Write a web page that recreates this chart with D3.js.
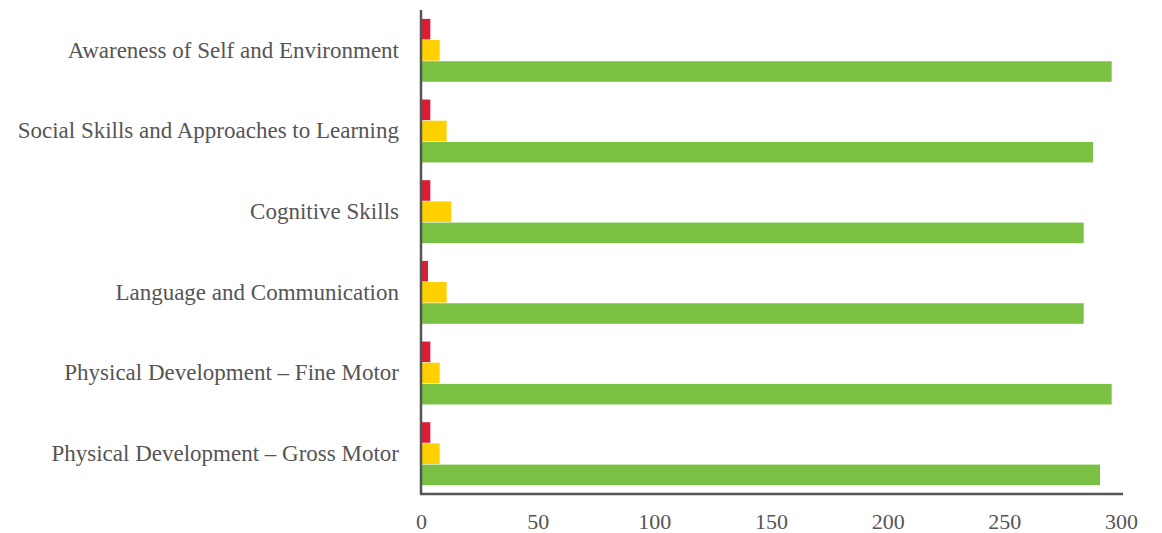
<!DOCTYPE html>
<html><head><meta charset="utf-8">
<script src="https://cdn.jsdelivr.net/npm/d3@7"></script>
<style>body{margin:0;background:#fff}svg{display:block}</style>
</head><body><svg id="c" width="1162" height="533"></svg>
<script>
const categories = ["Awareness of Self and Environment","Social Skills and Approaches to Learning","Cognitive Skills","Language and Communication","Physical Development – Fine Motor","Physical Development – Gross Motor"];
const seriesNames = ["Red","Yellow","Green"];
const redValues = [4,4,4,3,4,4];
const yellowValues = [8,11,13,11,8,8];
const greenValues = [296,288,284,284,296,291];
const xTicks = [0,50,100,150,200,250,300];
const colors = ["#dc1c35","#ffd000","#7ac143"];

const svg = d3.select("#c");
const m = {left:421, right:1121, top:10, bottom:494};
const x = d3.scaleLinear().domain([0,300]).range([m.left, m.right]);
const y = d3.scaleBand().domain(categories).range([m.top, m.bottom]).paddingInner(0.22).paddingOuter(0.11);
const ySub = d3.scaleBand().domain(seriesNames).range([0, y.bandwidth()]).paddingInner(0.03);
const series = [redValues, yellowValues, greenValues];

const g = svg.append("g");
categories.forEach((c,i)=>{
  series.forEach((vals,s)=>{
    g.append("rect")
      .attr("x", x(0))
      .attr("y", y(c)+ySub(seriesNames[s]))
      .attr("width", x(vals[i])-x(0))
      .attr("height", ySub.bandwidth())
      .attr("fill", colors[s]);
  });
});

const font = "'Liberation Serif','Times New Roman',serif";
// y axis
const ya = svg.append("g").attr("transform",`translate(${m.left},0)`)
  .call(d3.axisLeft(y).tickSize(0).tickPadding(22));
ya.select(".domain").attr("stroke","#555").attr("stroke-width",2.5).attr("d",`M0,${m.top}V${m.bottom+1}`);
ya.selectAll("text").attr("font-family",font).attr("font-size",23).attr("fill","#555");

// x axis
const xa = svg.append("g").attr("transform",`translate(0,${m.bottom})`)
  .call(d3.axisBottom(x).tickValues(xTicks).tickSize(0).tickPadding(19).tickFormat(d3.format("d")));
xa.select(".domain").attr("stroke","#555").attr("stroke-width",2.5).attr("d",`M${m.left-1},0H${m.right+2}`);
xa.selectAll("text").attr("font-family",font).attr("font-size",22).attr("fill","#555");
</script></body></html>
